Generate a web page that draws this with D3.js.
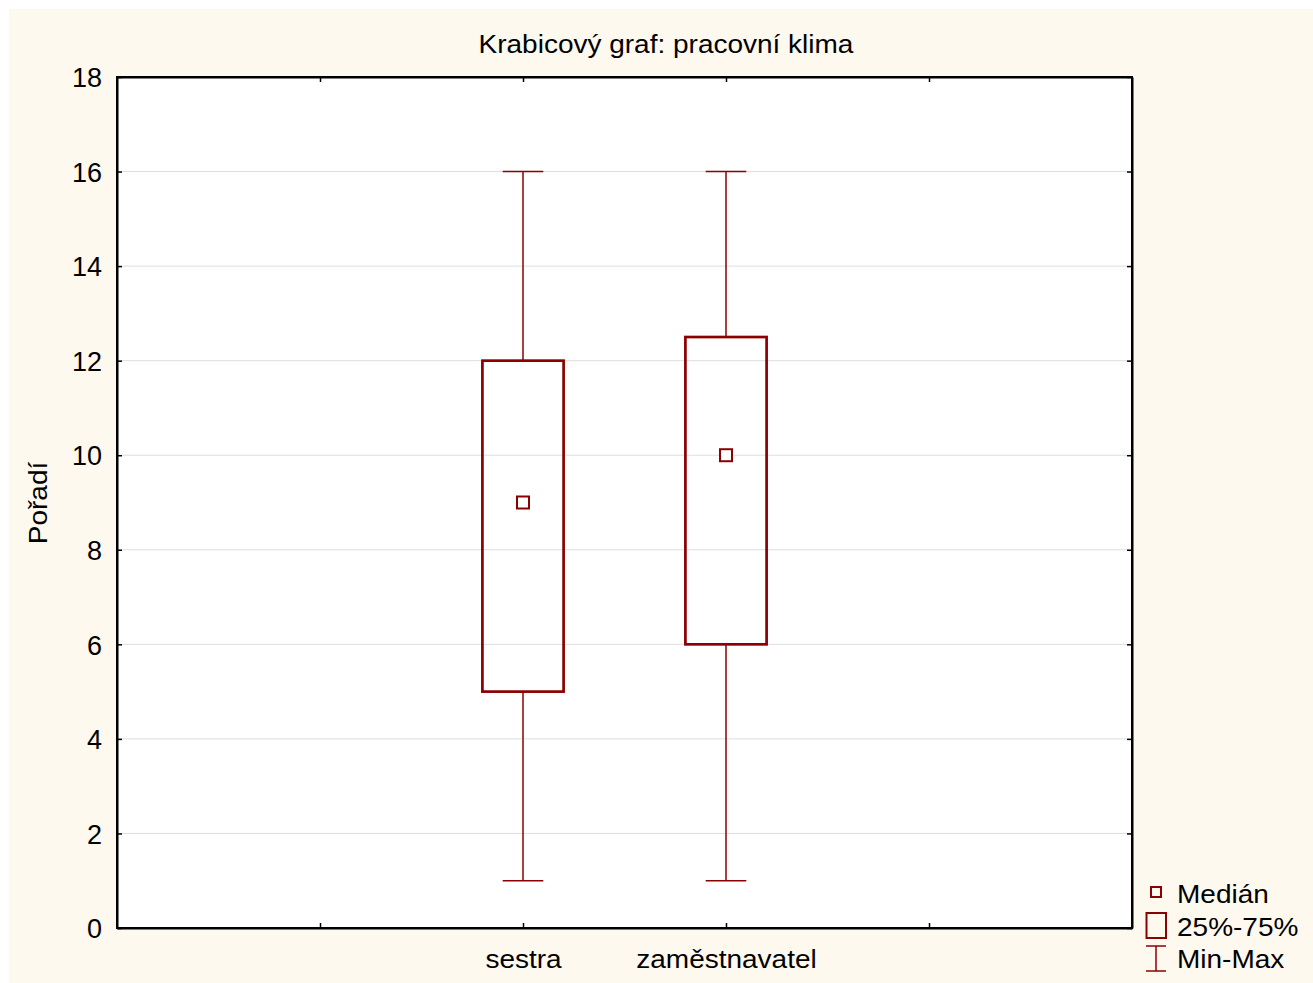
<!DOCTYPE html>
<html>
<head>
<meta charset="utf-8">
<script src="https://cdn.jsdelivr.net/npm/d3@7"></script>
<style>
  html, body { margin: 0; padding: 0; background: #ffffff; }
  svg { display: block; }
  text { font-family: "Liberation Sans", Arial, sans-serif; fill: #000; }
</style>
</head>
<body>
<svg id="chart" width="1313" height="983"></svg>
<script>
// Box plot data: pracovní klima by group
const categories = ["sestra", "zaměstnavatel"];
const categoryPositions = [2, 3];
const minValues = [1, 1];
const q1Values = [5, 6];
const medianValues = [9, 10];
const q3Values = [12, 12.5];
const maxValues = [16, 16];
const yTicks = [0, 2, 4, 6, 8, 10, 12, 14, 16, 18];
const xTicks = [1, 2, 3, 4];
const legendLabels = ["Medián", "25%-75%", "Min-Max"];

const W = 1313, H = 983;
const plot = { left: 117, top: 77, right: 1132, bottom: 928 };
const red = "#8b0000";
const labelSize = 25;      // label font size
const stretch = 1.12;      // wide label lettering

const svg = d3.select("#chart");

// page background
svg.append("rect").attr("x", 9).attr("y", 9).attr("width", W - 9).attr("height", H - 9)
  .attr("fill", "#fef9ef");

// plot area
svg.append("rect").attr("x", plot.left).attr("y", plot.top)
  .attr("width", plot.right - plot.left).attr("height", plot.bottom - plot.top)
  .attr("fill", "#ffffff");

const x = d3.scaleLinear().domain([0, 5]).range([plot.left, plot.right]);
const y = d3.scaleLinear().domain([0, 18]).range([plot.bottom, plot.top]);

// horizontal gridlines
svg.append("g").selectAll("line").data(yTicks.filter(t => t > 0 && t < 18)).join("line")
  .attr("x1", plot.left).attr("x2", plot.right)
  .attr("y1", d => y(d)).attr("y2", d => y(d))
  .attr("stroke", "#dedede").attr("stroke-width", 1);

// axes with inward ticks on all sides
const tickLen = 5;
const leftAxis = svg.append("g").attr("transform", `translate(${plot.left},0)`)
  .call(d3.axisLeft(y).tickValues(yTicks).tickSizeInner(-tickLen).tickSizeOuter(0).tickPadding(15));
const rightAxis = svg.append("g").attr("transform", `translate(${plot.right},0)`)
  .call(d3.axisRight(y).tickValues(yTicks).tickSizeInner(-tickLen).tickSizeOuter(0).tickFormat(""));
const bottomAxis = svg.append("g").attr("transform", `translate(0,${plot.bottom})`)
  .call(d3.axisBottom(x).tickValues(xTicks).tickSizeInner(-tickLen).tickSizeOuter(0).tickPadding(22)
    .tickFormat(d => { const i = categoryPositions.indexOf(d); return i >= 0 ? categories[i] : ""; }));
const topAxis = svg.append("g").attr("transform", `translate(0,${plot.top})`)
  .call(d3.axisTop(x).tickValues(xTicks).tickSizeInner(-tickLen).tickSizeOuter(0).tickFormat(""));

[leftAxis, rightAxis, bottomAxis, topAxis].forEach(g => {
  g.attr("font-family", null).attr("font-size", null);
  g.select(".domain").attr("stroke", "#000").attr("stroke-width", 2);
  g.selectAll(".tick line").attr("stroke", "#000").attr("stroke-width", 1.5);
  g.selectAll(".tick text").attr("fill", "#000");
});
leftAxis.selectAll(".tick text").attr("font-size", 27).attr("dy", "0.36em");
bottomAxis.selectAll(".tick text").attr("font-size", labelSize).attr("dy", "0.71em")
  .attr("transform", `scale(${stretch},1)`);

// frame
svg.append("rect").attr("x", plot.left).attr("y", plot.top)
  .attr("width", plot.right - plot.left).attr("height", plot.bottom - plot.top)
  .attr("fill", "none").attr("stroke", "#000").attr("stroke-width", 2);

// title and axis label
svg.append("text").attr("transform", `translate(666,53) scale(${stretch},1)`)
  .attr("text-anchor", "middle").attr("font-size", labelSize).text("Krabicový graf: pracovní klima");
svg.append("text").attr("transform", `translate(47,503) rotate(-90) scale(${stretch},1)`)
  .attr("text-anchor", "middle").attr("font-size", labelSize).text("Pořadí");

// boxes
const boxW = x(0.4) - x(0);
const capW = x(0.2) - x(0);
const groups = svg.append("g").selectAll("g").data(categories.map((c, i) => i)).join("g");

// whiskers
groups.append("line")
  .attr("x1", i => x(categoryPositions[i])).attr("x2", i => x(categoryPositions[i]))
  .attr("y1", i => y(maxValues[i])).attr("y2", i => y(q3Values[i]))
  .attr("stroke", red).attr("stroke-width", 1.5);
groups.append("line")
  .attr("x1", i => x(categoryPositions[i])).attr("x2", i => x(categoryPositions[i]))
  .attr("y1", i => y(q1Values[i])).attr("y2", i => y(minValues[i]))
  .attr("stroke", red).attr("stroke-width", 1.5);
groups.append("line")
  .attr("x1", i => x(categoryPositions[i]) - capW / 2).attr("x2", i => x(categoryPositions[i]) + capW / 2)
  .attr("y1", i => y(maxValues[i])).attr("y2", i => y(maxValues[i]))
  .attr("stroke", red).attr("stroke-width", 1.5);
groups.append("line")
  .attr("x1", i => x(categoryPositions[i]) - capW / 2).attr("x2", i => x(categoryPositions[i]) + capW / 2)
  .attr("y1", i => y(minValues[i])).attr("y2", i => y(minValues[i]))
  .attr("stroke", red).attr("stroke-width", 1.5);

// interquartile box
groups.append("rect")
  .attr("x", i => x(categoryPositions[i]) - boxW / 2).attr("width", boxW)
  .attr("y", i => y(q3Values[i])).attr("height", i => y(q1Values[i]) - y(q3Values[i]))
  .attr("fill", "none").attr("stroke", red).attr("stroke-width", 2.7);

// median marker
const mk = 12;
groups.append("rect")
  .attr("x", i => x(categoryPositions[i]) - mk / 2).attr("width", mk)
  .attr("y", i => y(medianValues[i]) - mk / 2).attr("height", mk)
  .attr("fill", "#fff").attr("stroke", red).attr("stroke-width", 2);

// legend
const lg = svg.append("g");
const lx = 1156;
lg.append("rect").attr("x", lx - 5).attr("y", 892 - 5).attr("width", 10).attr("height", 10)
  .attr("fill", "none").attr("stroke", red).attr("stroke-width", 2);
lg.append("rect").attr("x", lx - 9.5).attr("y", 913).attr("width", 19.5).attr("height", 25)
  .attr("fill", "none").attr("stroke", red).attr("stroke-width", 2);
lg.append("line").attr("x1", lx).attr("x2", lx).attr("y1", 946).attr("y2", 971)
  .attr("stroke", red).attr("stroke-width", 1.5);
lg.append("line").attr("x1", lx - 10).attr("x2", lx + 10).attr("y1", 946).attr("y2", 946)
  .attr("stroke", red).attr("stroke-width", 1.5);
lg.append("line").attr("x1", lx - 10).attr("x2", lx + 10).attr("y1", 971).attr("y2", 971)
  .attr("stroke", red).attr("stroke-width", 1.5);
lg.selectAll("text").data(legendLabels).join("text")
  .attr("transform", (d, i) => `translate(1177,${903 + i * 32.5}) scale(${stretch},1)`)
  .attr("font-size", labelSize).text(d => d);
</script>
</body>
</html>
